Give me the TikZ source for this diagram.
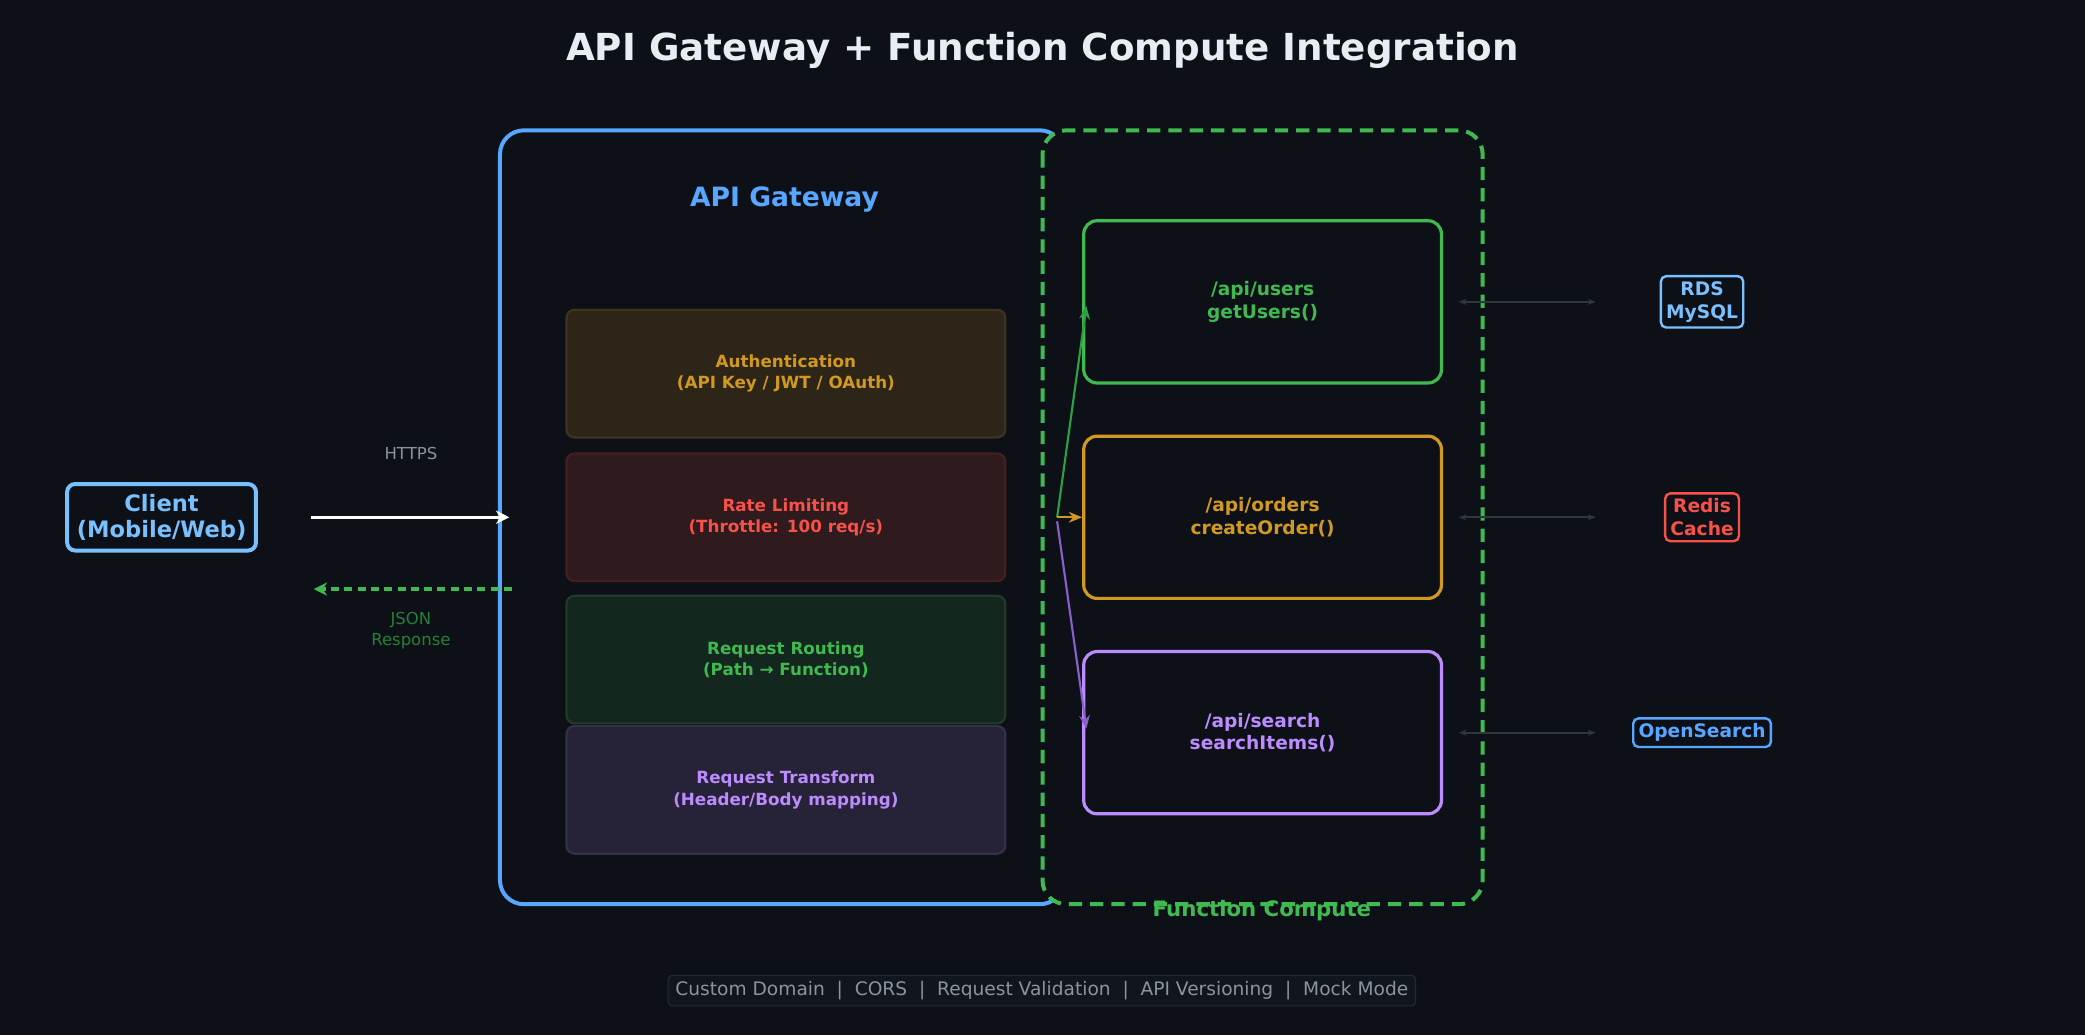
\documentclass[tikz,border=0pt]{standalone}
\usepackage{fontspec}
\setmainfont{DejaVu Sans}
\usetikzlibrary{arrows.meta}
\definecolor{bg}{HTML}{0D1117}
\definecolor{tw}{HTML}{E6EDF3}
\definecolor{blu}{HTML}{58A6FF}
\definecolor{lblu}{HTML}{79C0FF}
\definecolor{grn}{HTML}{3FB950}
\definecolor{dgrn}{HTML}{2EA043}
\definecolor{amb}{HTML}{D29922}
\definecolor{rd}{HTML}{F85149}
\definecolor{pur}{HTML}{BC8CFF}
\definecolor{dpur}{HTML}{8B5FC8}
\definecolor{gry}{HTML}{8B949E}
\definecolor{dgry}{HTML}{30363D}
\definecolor{authf}{HTML}{2D2518}
\definecolor{authd}{HTML}{3D3420}
\definecolor{ratef}{HTML}{2F1A1E}
\definecolor{rated}{HTML}{43201F}
\definecolor{routf}{HTML}{14271E}
\definecolor{routd}{HTML}{24382C}
\definecolor{tranf}{HTML}{262338}
\definecolor{trand}{HTML}{343048}
\definecolor{footf}{HTML}{11161D}
\definecolor{footd}{HTML}{252A31}
\tikzset{
 fs/.style 2 args={font=\fontsize{#1}{#2}\selectfont\bfseries},
 layer/.style={rounded corners=3pt, line width=0.8pt, minimum width=165pt, minimum height=48pt, align=center, fs={6.3}{8}},
 fn/.style={rounded corners=5pt, line width=1.2pt, minimum width=134.5pt, minimum height=61pt, align=center, fs={7}{8.6}, fill=bg},
 ext/.style={rounded corners=2pt, line width=0.9pt, align=center, fs={7}{8.6}, inner sep=2pt, fill=bg},
 dbl/.style={{Stealth[length=3pt]}-{Stealth[length=3pt]}, dgry, line width=0.7pt}
}
\begin{document}
\begin{tikzpicture}[x=0.5pt,y=-0.5pt]
\fill[bg] (0,0) rectangle (1568,778);
\useasboundingbox (0,0) rectangle (1568,778);
\node[fs={14}{16}, text=tw] (title) at (784,38) {API Gateway + Function Compute Integration};
\draw[blu, line width=1.5pt, rounded corners=9pt] (376,98) rectangle (800,680);
\draw[grn, fill=bg, line width=1.5pt, rounded corners=9pt, dash pattern=on 5pt off 3pt] (784,98) rectangle (1115,680);
\node[fs={10}{12}, text=blu] (gwl) at (590,150) {API Gateway};
\node[fs={8}{10}, text=grn] (fcl) at (949,685) {Function Compute};
\node[layer, fill=authf, draw=authd, text=amb] (auth) at (591,281) {Authentication\\(API Key / JWT / OAuth)};
\node[layer, fill=ratef, draw=rated, text=rd] (rate) at (591,389) {Rate Limiting\\(Throttle: 100 req/s)};
\node[layer, fill=routf, draw=routd, text=grn] (rout) at (591,496) {Request Routing\\(Path → Function)};
\node[layer, fill=tranf, draw=trand, text=pur] (trans) at (591,594) {Request Transform\\(Header/Body mapping)};
\node[fn, draw=grn, text=grn] (f1) at (949.5,227) {/api/users\\getUsers()};
\node[fn, draw=amb, text=amb] (f2) at (949.5,389) {/api/orders\\createOrder()};
\node[fn, draw=pur, text=pur] (f3) at (949.5,551) {/api/search\\searchItems()};
\coordinate (hub) at (795,389);
\coordinate (hub3) at (795,392);
\draw[-{Stealth[length=5pt,width=4pt]}, dgrn, line width=0.8pt] (hub) -- (817,230);
\draw[-{Stealth[length=5pt,width=4pt]}, amb, line width=0.8pt] (hub) -- (f2.west);
\draw[-{Stealth[length=5pt,width=4pt]}, dpur, line width=0.8pt] (hub3) -- (817,548);
\node[ext, draw=lblu, text=lblu] (rds) at (1280,227) {RDS\\MySQL};
\node[ext, draw=rd, text=rd] (redis) at (1280,389) {Redis\\Cache};
\node[ext, draw=blu, text=blu] (os) at (1280,551) {OpenSearch};
\coordinate (a1) at (1097,227); \coordinate (b1) at (1200,227);
\coordinate (a2) at (1097,389); \coordinate (b2) at (1200,389);
\coordinate (a3) at (1097,551); \coordinate (b3) at (1200,551);
\draw[dbl] (a1) -- (b1); \draw[dbl] (a2) -- (b2); \draw[dbl] (a3) -- (b3);
\node[draw=lblu, text=lblu, line width=1.5pt, rounded corners=3pt, fill=bg, fs={8.5}{10}, align=center, minimum width=71pt, minimum height=25pt, inner sep=1pt] (client) at (121.5,389) {Client\\(Mobile/Web)};
\coordinate (h1) at (234,389); \coordinate (h2) at (383,389);
\coordinate (j1) at (385,443); \coordinate (j2) at (236,443);
\draw[-{Stealth[length=5pt,width=5pt]}, white, line width=1.3pt] (h1) -- (h2);
\draw[-{Stealth[length=5pt,width=5pt]}, grn, line width=1.3pt, dash pattern=on 3pt off 2pt] (j1) -- (j2);
\node[font=\fontsize{6.2}{7}\selectfont, text=gry] (https) at (309,341) {HTTPS};
\node[font=\fontsize{6.2}{8}\selectfont, text=dgrn!80!black, align=center] (json) at (309,474) {JSON\\Response};
\node[draw=footd, fill=footf, rounded corners=1.5pt, text=gry, font=\fontsize{7}{8}\selectfont, minimum width=281pt, minimum height=11.5pt, inner sep=1pt] (foot) at (783.5,745) {Custom Domain \ | \ CORS \ | \ Request Validation \ | \ API Versioning \ | \ Mock Mode};
\end{tikzpicture}
\end{document}
